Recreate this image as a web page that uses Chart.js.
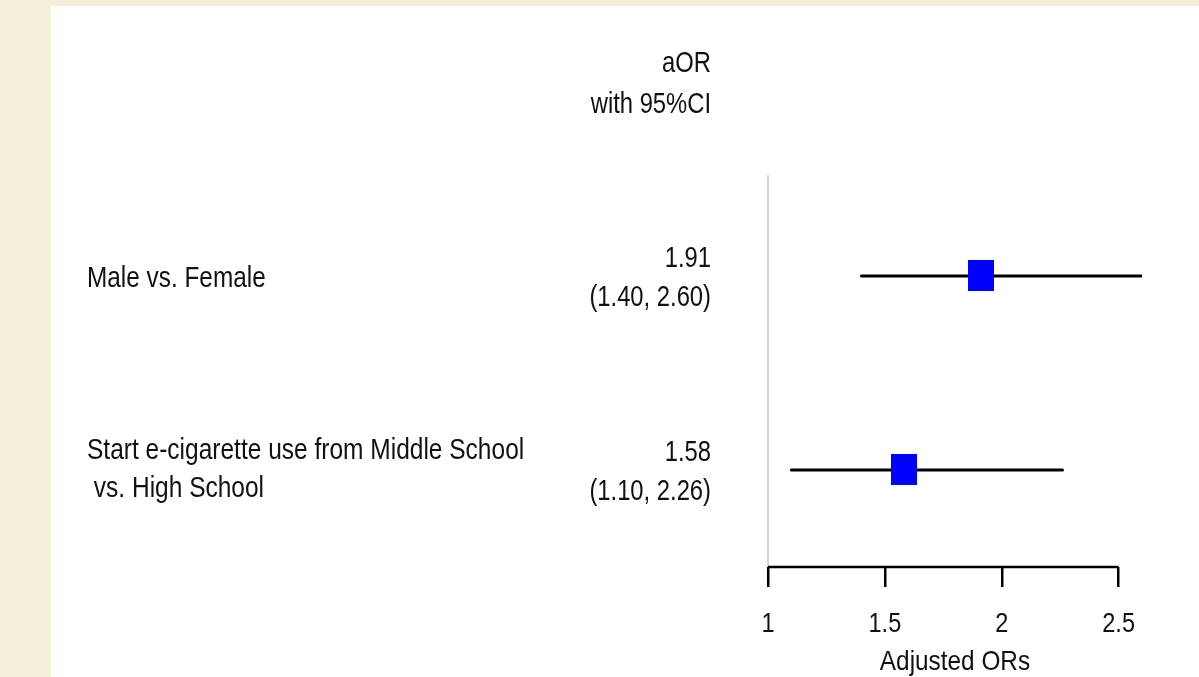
<!DOCTYPE html>
<html>
<head>
<meta charset="utf-8">
<script src="https://cdn.jsdelivr.net/npm/chart.js@4.4.1/dist/chart.umd.min.js"></script>
<style>
  html, body { margin: 0; padding: 0; background: #f5efd9; }
  #wrap { position: absolute; left: 51px; top: 6px; width: 1148px; height: 671px; background: #fff; }
</style>
</head>
<body>
<div id="wrap"><canvas id="forest"></canvas></div>
<script>
// Forest plot data
const rowLabels = [
    ['Male vs. Female'],
    ['Start e-cigarette use from Middle School', ' vs. High School']
];
const estimates = [1.91, 1.58];
const lowerCI = [1.40, 1.10];
const upperCI = [2.60, 2.26];
const xTicks = [1, 1.5, 2, 2.5];
const xTitle = 'Adjusted ORs';

const FONT = '"Liberation Sans", Arial, sans-serif';
const TEXT = '#111';

// blue marker, a bit taller than wide
const marker = document.createElement('canvas');
marker.width = 26;
marker.height = 31;
const mctx = marker.getContext('2d');
mctx.fillStyle = '#0000ff';
mctx.fillRect(0, 0, 26, 31);

const rows = estimates.map((_, i) => i + 1);

const ciSets = rows.map((r, i) => ({
    type: 'line',
    data: [{x: lowerCI[i], y: r}, {x: upperCI[i], y: r}],
    borderColor: '#000',
    borderWidth: 3,
    borderCapStyle: 'round',
    pointRadius: 0,
    order: 1
}));

// the original font is a narrow sans, so squeeze Liberation Sans horizontally
function narrowText(ctx, text, x, y, align, sx, size) {
    ctx.save();
    ctx.font = size + 'px ' + FONT;
    ctx.textAlign = align;
    ctx.textBaseline = 'middle';
    ctx.translate(x, y);
    ctx.scale(sx, 1);
    ctx.fillText(text, 0, 0);
    ctx.restore();
}

const forestText = {
    id: 'forestText',
    beforeDatasetsDraw(chart) {
        const {ctx, chartArea, scales: {x}} = chart;
        const x1 = x.getPixelForValue(1);
        ctx.save();
        // reference line at 1
        ctx.strokeStyle = '#d4d4d4';
        ctx.lineWidth = 2;
        ctx.beginPath();
        ctx.moveTo(x1, chartArea.top);
        ctx.lineTo(x1, chartArea.bottom);
        ctx.stroke();
        // axis line only across the tick range
        ctx.strokeStyle = '#000';
        ctx.lineWidth = 2.5;
        ctx.beginPath();
        ctx.moveTo(x.getPixelForValue(xTicks[0]), chartArea.bottom);
        ctx.lineTo(x.getPixelForValue(xTicks[xTicks.length - 1]), chartArea.bottom);
        ctx.stroke();
        ctx.restore();
    },
    afterDraw(chart) {
        const {ctx, chartArea, scales: {x, y}} = chart;
        ctx.fillStyle = TEXT;

        narrowText(ctx, 'aOR', 660, 58, 'right', 0.82, 29);
        narrowText(ctx, 'with 95%CI', 660, 99, 'right', 0.82, 29);

        rows.forEach((r, i) => {
            const py = y.getPixelForValue(r);
            narrowText(ctx, estimates[i].toFixed(2), 660, py - 17, 'right', 0.82, 29);
            narrowText(ctx, '(' + lowerCI[i].toFixed(2) + ', ' + upperCI[i].toFixed(2) + ')', 660, py + 22, 'right', 0.82, 29);

            const lines = rowLabels[i];
            if (lines.length === 1) {
                narrowText(ctx, lines[0], 36, py + 3, 'left', 0.84, 29);
            } else {
                lines.forEach((t, k) => narrowText(ctx, t, 36, py - 19 + k * 38, 'left', 0.845, 29));
            }
        });

        // tick labels and axis title
        x.ticks.forEach(t => {
            narrowText(ctx, String(t.value), x.getPixelForValue(t.value), chartArea.bottom + 57, 'center', 0.84, 28);
        });
        narrowText(ctx, xTitle, (chartArea.left + chartArea.right) / 2, chartArea.bottom + 95, 'center', 0.87, 28);
    }
};

new Chart(document.getElementById('forest'), {
    type: 'scatter',
    data: {
        datasets: [{
            data: rows.map((r, i) => ({x: estimates[i], y: r})),
            pointStyle: marker,
            order: 0
        }, ...ciSets]
    },
    options: {
        responsive: true,
        maintainAspectRatio: false,
        animation: false,
        layout: {
            padding: {left: 717, right: 57, top: 169, bottom: 90}
        },
        plugins: {
            legend: {display: false},
            tooltip: {enabled: false}
        },
        scales: {
            x: {
                type: 'linear',
                min: 1,
                max: 2.6,
                afterBuildTicks: axis => {
                    axis.ticks = xTicks.map(v => ({value: v}));
                },
                border: {display: false},
                grid: {
                    drawOnChartArea: false,
                    drawTicks: true,
                    tickLength: 20,
                    color: '#000',
                    lineWidth: 2.5
                },
                ticks: {display: false},
                title: {display: false}
            },
            y: {
                type: 'linear',
                display: false,
                reverse: true,
                min: 0.48,
                max: 2.5
            }
        }
    },
    plugins: [forestText]
});
</script>
</body>
</html>
